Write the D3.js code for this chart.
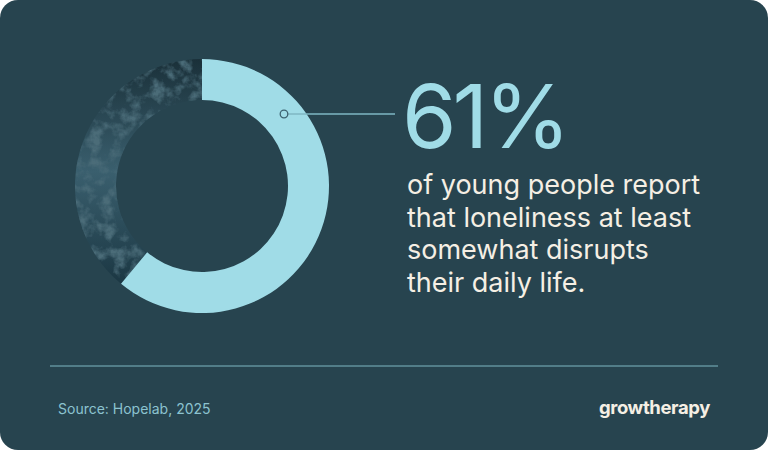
<!DOCTYPE html>
<html>
<head>
<meta charset="UTF-8">
<script src="https://cdn.jsdelivr.net/npm/d3@7"></script>
<style>body{margin:0;background:#fff}</style>
</head>
<body>
<script>
var shares = [61, 39]
var headline = '61%'
var bodyLines = ['of young people report', 'that loneliness at least', 'somewhat disrupts', 'their daily life.']
var source = 'Source: Hopelab, 2025'

var svg = d3.select('body').append('svg').attr('width', 768).attr('height', 450)
var defs = svg.append('defs')
var f = defs.append('filter').attr('id', 'rock').attr('x', 0).attr('y', 0).attr('width', 1).attr('height', 1)
f.append('feTurbulence').attr('type', 'fractalNoise').attr('baseFrequency', 0.08).attr('numOctaves', 4).attr('seed', 3)
f.append('feColorMatrix').attr('values', '0 0 0 0 0.07  0 0 0 0 0.15  0 0 0 0 0.19  0 0 0 -3 1.7')
f.append('feComposite').attr('in2', 'SourceGraphic').attr('operator', 'in')
var grad = defs.append('linearGradient').attr('id', 'mt').attr('x1', 0).attr('y1', 0).attr('x2', 0).attr('y2', 1)
grad.append('stop').attr('offset', 0).attr('stop-color', '#1a3039')
grad.append('stop').attr('offset', 0.5).attr('stop-color', '#3a5f6e')
grad.append('stop').attr('offset', 1).attr('stop-color', '#1b3743')

svg.append('rect').attr('width', 768).attr('height', 450).attr('rx', 18).attr('fill', '#27444f')

var g = svg.append('g').attr('transform', 'translate(202,186)')
var pie = d3.pie().sort(null)(shares)
var arc = d3.arc().innerRadius(86).outerRadius(127)
g.append('path').attr('d', arc(pie[1])).attr('fill', 'url(#mt)')
g.append('path').attr('d', arc(pie[1])).attr('fill', '#000').attr('filter', 'url(#rock)')
g.append('path').attr('d', arc(pie[0])).attr('fill', '#a0dce7')

svg.append('line').attr('x1', 287).attr('x2', 395).attr('y1', 114).attr('y2', 114)
    .attr('stroke', '#7fb7c3').attr('stroke-width', 1.3)
svg.append('circle').attr('cx', 284).attr('cy', 114).attr('r', 3.8)
    .attr('fill', '#a0dce7').attr('stroke', '#3d6270').attr('stroke-width', 1.3)

svg.append('text').attr('x', 402).attr('y', 148).text(headline)
    .attr('font-family', 'Inter, sans-serif').attr('font-size', 88).attr('font-weight', 400)
    .attr('letter-spacing', -4).attr('fill', '#a0dce7')

svg.selectAll('.bl').data(bodyLines).enter().append('text')
    .attr('x', 407).attr('y', function(d, i){ return 194 + i * 32.5 })
    .text(function(d){ return d })
    .attr('font-family', 'Inter, sans-serif').attr('font-size', 27).attr('letter-spacing', 0)
    .attr('fill', '#f5efe4')

svg.append('line').attr('x1', 50).attr('x2', 718).attr('y1', 366).attr('y2', 366)
    .attr('stroke', '#7fb7c3').attr('stroke-width', 1)
svg.append('text').attr('x', 58).attr('y', 414).text(source)
    .attr('font-family', 'Inter, sans-serif').attr('font-size', 14).attr('fill', '#8cc3cf')
svg.append('text').attr('x', 710).attr('y', 414).attr('text-anchor', 'end').text('growtherapy')
    .attr('font-family', 'Inter, sans-serif').attr('font-size', 18.5).attr('font-weight', 700)
    .attr('letter-spacing', -0.4).attr('fill', '#f5efe4')
</script>
</body>
</html>
